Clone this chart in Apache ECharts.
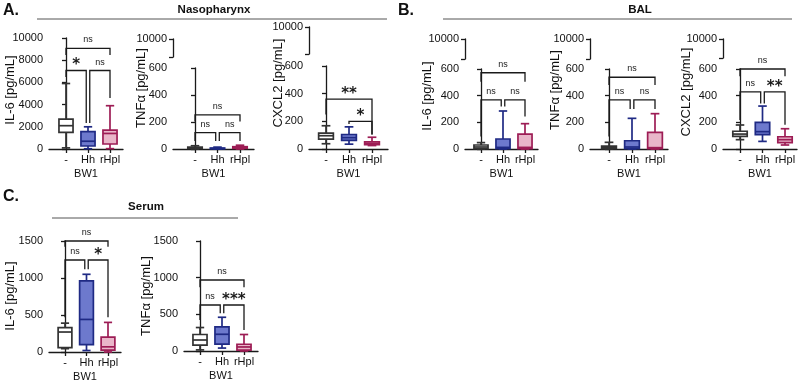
<!DOCTYPE html>
<html>
<head>
<meta charset="utf-8">
<script src="https://cdn.jsdelivr.net/npm/echarts@6/dist/echarts.min.js"></script>
<style>
  html, body { margin: 0; padding: 0; background: #fff; }
  #main { width: 799px; height: 381px; }
</style>
</head>
<body>
<div id="main"></div>
<script>
// groups along every x axis
var groups = ['-', 'Hh', 'rHpl'];

// box summaries per group: [min, Q1, median, Q3, max]
var nasoIL6   = [[100, 1500, 2100, 2700, 5900], [20, 270, 700, 1560, 2000], [30, 450, 1400, 1700, 3900]];
var nasoTNF   = [[0, 4, 8, 14, 24], [0, 2, 4, 7, 14], [0, 5, 10, 17, 28]];
var nasoCXCL2 = [[38, 72, 96, 115, 168], [35, 62, 82, 105, 160], [25, 32, 40, 52, 85]];
var balIL6    = [[0, 3, 15, 30, 48], [0, 3, 12, 75, 285], [0, 2, 12, 112, 190]];
var balTNF    = [[0, 3, 10, 22, 50], [0, 3, 15, 62, 230], [0, 3, 10, 125, 265]];
var balCXCL2  = [[70, 95, 112, 133, 180], [57, 108, 130, 200, 322], [30, 48, 70, 92, 152]];
var serIL6    = [[45, 60, 270, 330, 390], [20, 100, 440, 960, 1050], [0, 25, 70, 200, 400]];
var serTNF    = [[15, 80, 150, 225, 320], [40, 95, 228, 330, 460], [0, 12, 55, 92, 225]];

// significance brackets: [fromX, toX, barValue, leftLegEnd, rightLegEnd] + labels
var nasoIL6Br   = [[0, 2, 9070, 8470, 8470], [0, 0.92, 7070, 6490, 2340], [1.08, 2, 7070, 2340, 4600]];
var nasoIL6Sig  = ['ns', '*', 'ns'];
var nasoTNFBr   = [[0, 2, 253, 204, 204], [0, 0.92, 122, 60, 60], [1.08, 2, 122, 60, 60]];
var nasoTNFSig  = ['ns', 'ns', 'ns'];
var nasoCXBr    = [[0, 2, 360, 250, 105], [1, 2, 199, 180, 105]];
var nasoCXSig   = ['**', '*'];
var balIL6Br    = [[0, 2, 572, 505, 505], [0, 0.92, 368, 94, 318], [1.08, 2, 368, 318, 244]];
var balIL6Sig   = ['ns', 'ns', 'ns'];
var balTNFBr    = [[0, 2, 538, 480, 480], [0, 0.92, 368, 94, 300], [1.08, 2, 368, 300, 300]];
var balTNFSig   = ['ns', 'ns', 'ns'];
var balCXBr     = [[0, 2, 600, 545, 545], [0, 0.92, 429, 218, 342], [1.08, 2, 429, 342, 181]];
var balCXSig    = ['ns', 'ns', '**'];
var serIL6Br    = [[0, 2, 1500, 1423, 1423], [0, 0.92, 1243, 470, 1117], [1.08, 2, 1243, 1117, 470]];
var serIL6Sig   = ['ns', 'ns', '*'];
var serTNFBr    = [[0, 2, 968, 868, 868], [0, 0.92, 627, 423, 514], [1.08, 2, 627, 514, 286]];
var serTNFSig   = ['ns', 'ns', '***'];

var strokes = ['#333333', '#1f2a84', '#9d1d55'];
var fills = ['#ffffff', '#6d79cd', '#e9b6c9'];
var FONT = 'Liberation Sans';

// L = y axis x, c0 = first group centre, s = group spacing, E = x axis end
var plots = [
  { box: nasoIL6, br: nasoIL6Br, sig: nasoIL6Sig, L: 49, c0: 66, s: 22, E: 123, top: 38, y0: 149, max: 10000, step: 2000,
    title: 'IL-6 [pg/mL]', tx: 10, ty: 90 },
  { box: nasoTNF, br: nasoTNFBr, sig: nasoTNFSig, L: 173, c0: 195, s: 22.5, E: 254, top: 68, y0: 149, max: 600, step: 200,
    brk: [39, 57], title: 'TNF\u03b1 [pg/mL]', tx: 141, ty: 88 },
  { box: nasoCXCL2, br: nasoCXBr, sig: nasoCXSig, L: 309, c0: 326, s: 23, E: 388, top: 66, y0: 149, max: 600, step: 200,
    brk: [27, 54], title: 'CXCL2 [pg/mL]', tx: 278, ty: 83 },
  { box: balIL6, br: balIL6Br, sig: balIL6Sig, L: 465, c0: 481, s: 22, E: 538, top: 69, y0: 149, max: 600, step: 200,
    brk: [39, 59], title: 'IL-6 [pg/mL]', tx: 427, ty: 96 },
  { box: balTNF, br: balTNFBr, sig: balTNFSig, L: 590, c0: 609, s: 23, E: 668, top: 69, y0: 149, max: 600, step: 200,
    brk: [39, 59], title: 'TNF\u03b1 [pg/mL]', tx: 555, ty: 90 },
  { box: balCXCL2, br: balCXBr, sig: balCXSig, L: 723, c0: 740, s: 22.5, E: 797, top: 69, y0: 149, max: 600, step: 200,
    brk: [39, 58], title: 'CXCL2 [pg/mL]', tx: 686, ty: 92 },
  { box: serIL6, br: serIL6Br, sig: serIL6Sig, L: 49, c0: 65, s: 21.5, E: 121, top: 241, y0: 352, max: 1500, step: 500,
    title: 'IL-6 [pg/mL]', tx: 10, ty: 296 },
  { box: serTNF, br: serTNFBr, sig: serTNFSig, L: 184, c0: 200, s: 22, E: 258, top: 241, y0: 351, max: 1500, step: 500,
    title: 'TNF\u03b1 [pg/mL]', tx: 146, ty: 296 }
];

function boxRender(params, api) {
  var x = api.value(0);
  var i = Math.round(x);
  var pMin = api.coord([x, api.value(1)]);
  var pQ1 = api.coord([x, api.value(2)]);
  var pMed = api.coord([x, api.value(3)]);
  var pQ3 = api.coord([x, api.value(4)]);
  var pMax = api.coord([x, api.value(5)]);
  var band = api.size([1, 0])[0];
  var hw = band * 0.32, cw = band * 0.19, cx = pMed[0];
  var st = { stroke: strokes[i], lineWidth: 1.7, fill: null };
  return {
    type: 'group',
    children: [
      { type: 'line', shape: { x1: cx, y1: pMax[1], x2: cx, y2: pQ3[1] }, style: st },
      { type: 'line', shape: { x1: cx, y1: pQ1[1], x2: cx, y2: pMin[1] }, style: st },
      { type: 'line', shape: { x1: cx - cw, y1: pMax[1], x2: cx + cw, y2: pMax[1] }, style: st },
      { type: 'line', shape: { x1: cx - cw, y1: pMin[1], x2: cx + cw, y2: pMin[1] }, style: st },
      { type: 'rect', shape: { x: cx - hw, y: pQ3[1], width: 2 * hw, height: Math.max(pQ1[1] - pQ3[1], 0.5) },
        style: { fill: fills[i], stroke: strokes[i], lineWidth: 1.7 } },
      { type: 'line', shape: { x1: cx - hw, y1: pMed[1], x2: cx + hw, y2: pMed[1] }, style: st }
    ]
  };
}

function bracketRender(sig) {
  return function (params, api) {
    var v = api.value(2);
    var tl = api.coord([api.value(0), v]);
    var tr = api.coord([api.value(1), v]);
    var bl = api.coord([api.value(0), api.value(3)]);
    var brr = api.coord([api.value(1), api.value(4)]);
    var txt = sig[params.dataIndex];
    var star = txt !== 'ns';
    return {
      type: 'group',
      children: [
        { type: 'polyline', shape: { points: [bl, tl, tr, brr] },
          style: { stroke: '#1a1a1a', lineWidth: 1.3, fill: null } },
        { type: 'text', x: (tl[0] + tr[0]) / 2, y: tl[1] - (star ? 5 : 4),
          style: { text: txt, fill: '#1a1a1a', align: 'center', verticalAlign: star ? 'middle' : 'bottom',
            font: star ? 'bold 15px "DejaVu Sans"' : '9px "' + FONT + '"' } }
      ]
    };
  };
}

var axisColor = '#1a1a1a';
var plain = function (v) { return String(v); };
var option = {
  animation: false,
  backgroundColor: '#ffffff',
  textStyle: { fontFamily: FONT },
  grid: [], xAxis: [], yAxis: [], series: [], graphic: []
};

plots.forEach(function (p) {
  var gi = option.grid.length;
  var xmin = (p.L - p.c0) / p.s;
  var xmax = (p.E - p.c0) / p.s;
  option.grid.push({ left: p.L, top: p.top, width: p.E - p.L, height: p.y0 - p.top, outerBoundsMode: 'none' });
  option.xAxis.push({
    gridIndex: gi, type: 'value', min: xmin, max: xmax,
    axisLine: { lineStyle: { color: axisColor, width: 1.3 } },
    axisTick: { customValues: [0, 1, 2], length: 4, lineStyle: { color: axisColor, width: 1.3 } },
    axisLabel: { customValues: [0, 1, 2], margin: 5, fontSize: 11, color: '#111',
      formatter: function (v) { return groups[Math.round(v)]; } },
    splitLine: { show: false },
    name: 'BW1', nameLocation: 'middle', nameGap: 19, nameTextStyle: { fontSize: 11, color: '#111' }
  });
  option.yAxis.push({
    gridIndex: gi, type: 'value', min: 0, max: p.max, interval: p.step,
    axisLine: { show: true, lineStyle: { color: axisColor, width: 1.3 } },
    axisTick: { show: true, length: 4, lineStyle: { color: axisColor, width: 1.3 } },
    axisLabel: { margin: 6, fontSize: 11, color: '#111', formatter: plain },
    splitLine: { show: false }
  });
  option.series.push({
    type: 'custom', xAxisIndex: gi, yAxisIndex: gi, clip: false,
    data: p.box.map(function (b, i) { return [i].concat(b); }),
    encode: { x: 0, y: [1, 2, 3, 4, 5] },
    renderItem: boxRender, z: 3
  });
  option.series.push({
    type: 'custom', xAxisIndex: gi, yAxisIndex: gi, clip: false,
    data: p.br, encode: { x: [0, 1], y: [2, 3, 4] },
    renderItem: bracketRender(p.sig), z: 2
  });
  if (p.brk) {
    var gu = option.grid.length;
    option.grid.push({ left: p.L, top: p.brk[0], width: p.E - p.L, height: p.brk[1] - p.brk[0], outerBoundsMode: 'none' });
    option.xAxis.push({ gridIndex: gu, type: 'value', min: 0, max: 1, show: false });
    option.yAxis.push({
      gridIndex: gu, type: 'value', min: 0, max: 1, interval: 1,
      axisLine: { show: true, lineStyle: { color: axisColor, width: 1.3 } },
      axisTick: { show: true, length: 4, lineStyle: { color: axisColor, width: 1.3 } },
      axisLabel: { margin: 6, fontSize: 11, color: '#111',
        formatter: function (v) { return v === 1 ? '10000' : ''; } },
      splitLine: { show: false }
    });
  }
  option.graphic.push({
    type: 'text', x: p.tx, y: p.ty, rotation: Math.PI / 2,
    style: { text: p.title, font: '13px "' + FONT + '"', fill: '#111', align: 'center', verticalAlign: 'middle' }
  });
});

// panel headers
[
  { t: 'A.', x: 3, y: 11, f: 'bold 16px' },
  { t: 'B.', x: 398, y: 11, f: 'bold 16px' },
  { t: 'C.', x: 3, y: 197, f: 'bold 16px' }
].forEach(function (h) {
  option.graphic.push({ type: 'text', x: h.x, y: h.y,
    style: { text: h.t, font: h.f + ' "' + FONT + '"', fill: '#111', verticalAlign: 'middle' } });
});
[
  { t: 'Nasopharynx', x: 214, y: 10 },
  { t: 'BAL', x: 640, y: 10 },
  { t: 'Serum', x: 146, y: 207 }
].forEach(function (h) {
  option.graphic.push({ type: 'text', x: h.x, y: h.y,
    style: { text: h.t, font: 'bold 11.5px "' + FONT + '"', fill: '#111', align: 'center', verticalAlign: 'middle' } });
});
[[37, 19, 387], [443, 19, 792], [52, 218, 238]].forEach(function (l) {
  option.graphic.push({ type: 'line', shape: { x1: l[0], y1: l[1], x2: l[2], y2: l[1] },
    style: { stroke: '#555', lineWidth: 1 } });
});

var chart = echarts.init(document.getElementById('main'));
chart.setOption(option);
</script>
</body>
</html>
